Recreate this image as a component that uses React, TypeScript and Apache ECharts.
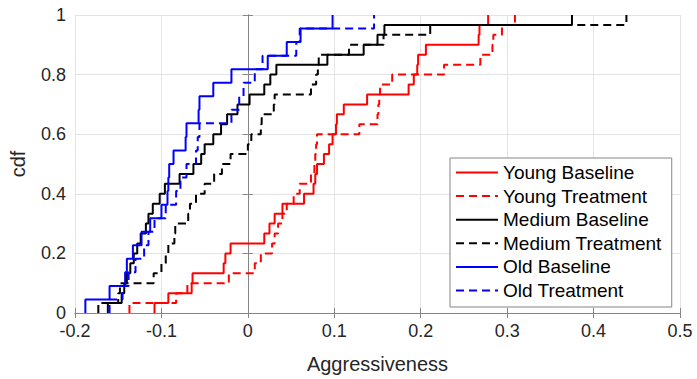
import React, { useEffect, useRef } from "react";
import * as echarts from "echarts";

const seriesNames = [
  "Young Baseline",
  "Young Treatment",
  "Medium Baseline",
  "Medium Treatment",
  "Old Baseline",
  "Old Treatment",
];

// sorted samples of each group
const youngBaseline = [
  -0.108, -0.092, -0.065, -0.064, -0.028, -0.026, -0.02, 0.019, 0.025, 0.031,
  0.04, 0.065, 0.076, 0.078, 0.08, 0.088, 0.094, 0.098, 0.102, 0.103,
  0.111, 0.138, 0.186, 0.192, 0.196, 0.197, 0.206, 0.267, 0.268, 0.278,
];
const youngTreatment = [
  -0.137, -0.083, -0.07, -0.022, 0.008, 0.015, 0.028, 0.031, 0.035, 0.04,
  0.045, 0.053, 0.06, 0.073, 0.077, 0.078, 0.079, 0.08, 0.129, 0.15,
  0.151, 0.152, 0.153, 0.167, 0.227, 0.269, 0.283, 0.284, 0.294, 0.309,
];
const mediumBaseline = [
  -0.162, -0.146, -0.143, -0.14, -0.136, -0.132, -0.128, -0.124, -0.118, -0.115,
  -0.11, -0.102, -0.096, -0.079, -0.063, -0.054, -0.05, -0.04, -0.031, -0.024,
  -0.012, 0.002, 0.019, 0.026, 0.033, 0.092, 0.134, 0.15, 0.158, 0.375,
];
const mediumTreatment = [
  -0.173, -0.15, -0.148, -0.109, -0.1, -0.095, -0.092, -0.085, -0.084, -0.069,
  -0.067, -0.06, -0.05, -0.039, -0.03, -0.02, 0.0, 0.004, 0.015, 0.016,
  0.03, 0.031, 0.073, 0.079, 0.081, 0.082, 0.117, 0.157, 0.211, 0.438,
];
const oldBaseline = [
  -0.188, -0.16, -0.142, -0.14, -0.133, -0.123, -0.113, -0.1, -0.093, -0.092,
  -0.091, -0.086, -0.072, -0.071, -0.057, -0.056, -0.04, -0.019, 0.023, 0.045,
  0.061, 0.098,
];
const oldTreatment = [
  -0.16, -0.145, -0.138, -0.13, -0.12, -0.115, -0.108, -0.095, -0.083, -0.078,
  -0.071, -0.06, -0.058, -0.056, -0.019, -0.01, -0.005, 0.008, 0.017, 0.056,
  0.06, 0.146,
];

const samples = [
  youngBaseline,
  youngTreatment,
  mediumBaseline,
  mediumTreatment,
  oldBaseline,
  oldTreatment,
];
const colors = ["#ff0000", "#ff0000", "#000000", "#000000", "#0000ff", "#0000ff"];
const dashed = [false, true, false, true, false, true];

const xTicks = { min: -0.2, max: 0.5, interval: 0.1 };
const yTicks = { min: 0, max: 1, interval: 0.2 };

const FONT = "'Liberation Sans', Arial, Helvetica, sans-serif";

function ecdf(values: number[]): [number, number][] {
  const s = [...values].sort((a, b) => a - b);
  const n = s.length;
  const pts: [number, number][] = [[s[0], 0]];
  s.forEach((v, i) => pts.push([v, (i + 1) / n]));
  return pts;
}

export default function App() {
  const ref = useRef<HTMLDivElement>(null);
  useEffect(() => {
    if (!ref.current) return;
    const chart = echarts.init(ref.current, undefined, { renderer: "svg" });
    const boxColor = "#858585";
    const tickColor = "#262626";
    chart.setOption({
      animation: false,
      backgroundColor: "#ffffff",
      grid: { left: 73, right: 17, top: 15, bottom: 63, containLabel: false },
      xAxis: [
        {
          type: "value",
          ...xTicks,
          name: "Aggressiveness",
          nameLocation: "middle",
          nameGap: 41,
          nameTextStyle: { fontFamily: FONT, fontSize: 20, color: tickColor },
          axisLine: { show: true, lineStyle: { color: boxColor, width: 1 } },
          axisTick: { show: true, inside: true, length: 5, lineStyle: { color: boxColor } },
          axisLabel: { fontFamily: FONT, fontSize: 18, color: tickColor, margin: 9 },
          splitLine: { show: true, lineStyle: { color: "#e3e3e3", width: 1 } },
        },
        {
          type: "value",
          ...xTicks,
          position: "top",
          axisLine: { show: true, lineStyle: { color: boxColor, width: 1 } },
          axisTick: { show: true, inside: true, length: 5, lineStyle: { color: boxColor } },
          axisLabel: { show: false },
          splitLine: { show: false },
        },
      ],
      yAxis: [
        {
          type: "value",
          ...yTicks,
          name: "cdf",
          nameLocation: "middle",
          nameGap: 47,
          nameRotate: 90,
          nameTextStyle: { fontFamily: FONT, fontSize: 20, color: tickColor },
          axisLine: { show: true, lineStyle: { color: boxColor, width: 1 } },
          axisTick: { show: true, inside: true, length: 5, lineStyle: { color: boxColor } },
          axisLabel: { fontFamily: FONT, fontSize: 18, color: tickColor, margin: 9 },
          splitLine: { show: true, lineStyle: { color: "#e3e3e3", width: 1 } },
        },
        {
          type: "value",
          ...yTicks,
          position: "right",
          axisLine: { show: true, lineStyle: { color: boxColor, width: 1 } },
          axisTick: { show: true, inside: true, length: 5, lineStyle: { color: boxColor } },
          axisLabel: { show: false },
          splitLine: { show: false },
        },
      ],
      legend: {
        orient: "vertical",
        left: 450,
        top: 158,
        backgroundColor: "#ffffff",
        borderColor: "#858585",
        borderWidth: 1,
        borderRadius: 0,
        padding: [5, 10, 7, 5],
        itemWidth: 42,
        itemHeight: 14,
        itemGap: 4.6,
        itemStyle: { opacity: 0 },
        textStyle: { fontFamily: FONT, fontSize: 19, color: "#000000" },
        data: seriesNames,
      },
      series: samples.map((vals, i) => ({
        name: seriesNames[i],
        type: "line",
        step: "end",
        showSymbol: false,
        symbol: "none",
        data: ecdf(vals),
        lineStyle: {
          color: colors[i],
          width: 2,
          type: dashed[i] ? [8, 5] : "solid",
        },
        itemStyle: { color: colors[i], opacity: 0 },
        z: 2 + i,
      })),
    });
    return () => chart.dispose();
  }, []);
  return (
    <div
      ref={ref}
      style={{ position: "fixed", left: 0, top: 0, width: 697, height: 379, background: "#fff" }}
    />
  );
}
